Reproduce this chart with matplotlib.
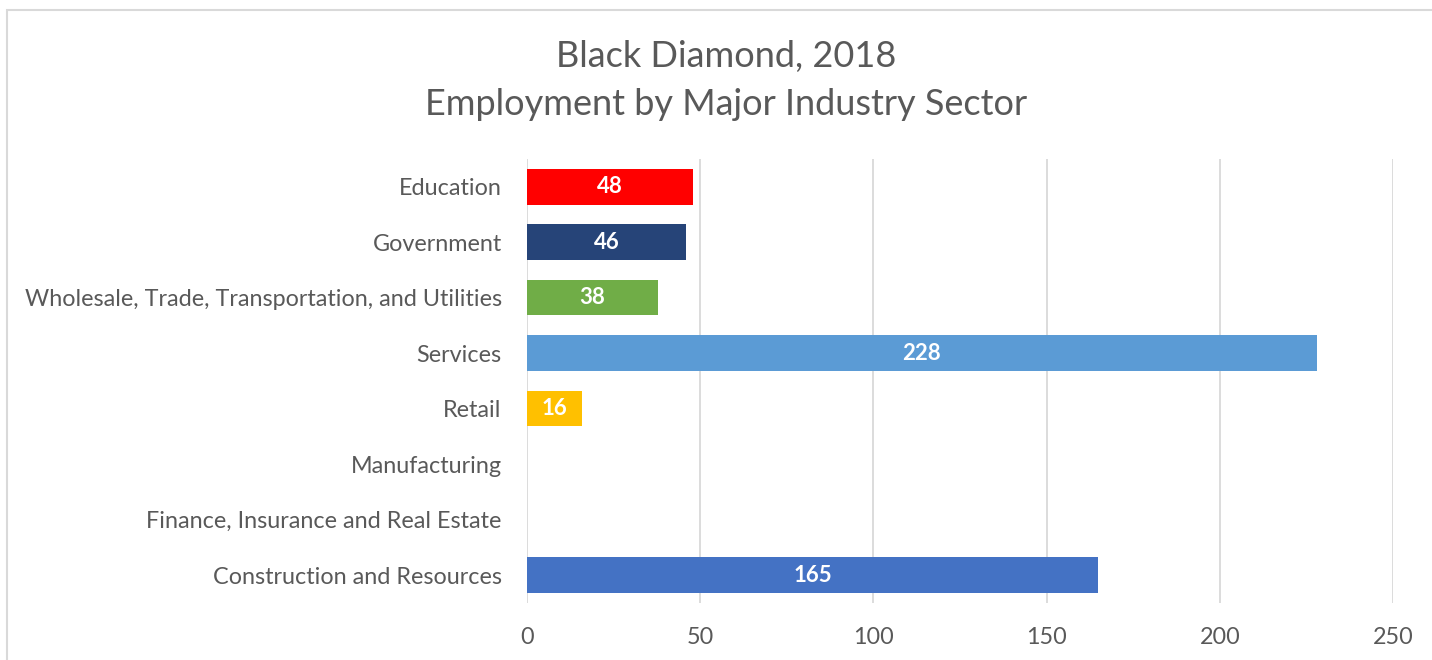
import numpy as np
import matplotlib
matplotlib.use("Agg")
import matplotlib.pyplot as plt
from matplotlib.patches import Rectangle

sectors = ["Education", "Government", "Wholesale, Trade, Transportation, and Utilities",
           "Services", "Retail", "Manufacturing", "Finance, Insurance and Real Estate",
           "Construction and Resources"]
employment = [48, 46, 38, 228, 16, np.nan, np.nan, 165]
colors = ["#ff0000", "#264478", "#70ad47", "#5b9bd5", "#ffc000", "#a5a5a5", "#7f7f7f", "#4472c4"]
xticks = [0, 50, 100, 150, 200, 250]

plt.rcParams["font.family"] = ["Lato", "DejaVu Sans"]
TXT = "#595959"
GRID = "#d9d9d9"

fig = plt.figure(figsize=(14.32, 6.6), dpi=100)
# chart frame
fig.patches.append(Rectangle((7 / 1432, -0.1), 1.2, 1 - 9.5 / 660 + 0.1, transform=fig.transFigure,
                             fill=False, edgecolor=GRID, lw=1.5))

ax = fig.add_axes([0.3678, 0.0864, 0.605, 0.6727])
y = np.arange(len(sectors))
ax.barh(y, employment, height=0.64, color=colors, zorder=3)
for yi, v in zip(y, employment):
    if np.isfinite(v):
        ax.text(v / 2, yi, f"{v:.0f}", ha="center", va="center", color="white",
                fontsize=16, fontweight="bold", zorder=4)

ax.set_ylim(len(sectors) - 0.5, -0.5)
ax.set_xlim(0, 250)
ax.set_xticks(xticks)
ax.set_yticks(y)
ax.set_yticklabels(sectors)
ax.grid(axis="x", color=GRID, lw=1.3, zorder=0)
for s in ax.spines.values():
    s.set_visible(False)
ax.tick_params(axis="both", length=0, labelsize=16.8, labelcolor=TXT)
ax.tick_params(axis="y", pad=18)
ax.tick_params(axis="x", pad=17)

fig.text(0.507, 0.914, "Black Diamond, 2018", ha="center", va="center", fontsize=26, color=TXT)
fig.text(0.507, 0.841, "Employment by Major Industry Sector", ha="center", va="center",
         fontsize=26, color=TXT)

fig.savefig("out.png", dpi=100, facecolor="white")
